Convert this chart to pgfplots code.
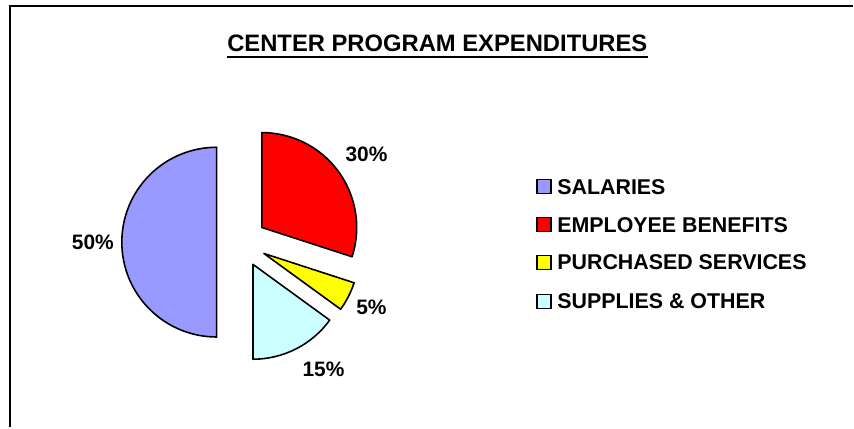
\documentclass[border=0pt]{standalone}
\usepackage{pgfplots}
\pgfplotsset{compat=1.18}
\usepackage{fontspec}
\setmainfont{Liberation Sans}
\definecolor{cSal}{HTML}{9999FF}
\definecolor{cEmp}{HTML}{FF0000}
\definecolor{cPur}{HTML}{FFFF00}
\definecolor{cSup}{HTML}{CCFFFF}
% data (percent of expenditures)
\def\vA{50}\def\vB{30}\def\vC{5}\def\vD{15}
% pie geometry (first slice starts at 6 o'clock, clockwise)
\def\cx{242}\def\cy{185.5}\def\R{95}\def\ex{25}
\pgfmathsetmacro\sA{270}
\pgfmathsetmacro\eA{\sA-3.6*\vA}
\pgfmathsetmacro\eB{\eA-3.6*\vB}
\pgfmathsetmacro\eC{\eB-3.6*\vC}
\pgfmathsetmacro\eD{\eC-3.6*\vD}
\newcommand\slice[3]{%
  \filldraw[fill=#3,draw=black,line width=1.6bp,line join=round]
    ({\cx+\ex*cos((#1+#2)/2)},{\cy+\ex*sin((#1+#2)/2)})
    -- ++({\R*cos(#1)},{\R*sin(#1)})
    arc[start angle=#1,end angle=#2,radius=\R] -- cycle;}
\begin{document}
\begin{tikzpicture}
\begin{axis}[x=1bp,y=1bp,xmin=0,xmax=854,ymin=0,ymax=428,
  hide axis,clip=false,scale only axis]
\path[fill=white] (axis cs:0,0) rectangle (axis cs:854,428);
% frame
\draw[line width=2.6bp] (axis cs:10,0) -- (axis cs:10,422) -- (axis cs:854,422);
% title
\node[anchor=base,font=\fontsize{23.9}{28}\selectfont\bfseries] (ttl) at (axis cs:438,376) {CENTER PROGRAM EXPENDITURES};
\draw[line width=2.2bp] (axis cs:227,371) -- (axis cs:649,371);
% slices
\slice{\sA}{\eA}{cSal}
\slice{\eA}{\eB}{cEmp}
\slice{\eB}{\eC}{cPur}
\slice{\eC}{\eD}{cSup}
% data labels
\begin{scope}[every node/.style={font=\fontsize{21}{24}\selectfont\bfseries}]
\node at (axis cs:93,185) {\vA\%};
\node at (axis cs:367,273) {\vB\%};
\node at (axis cs:372,120) {\vC\%};
\node at (axis cs:324,58) {\vD\%};
\end{scope}
% legend
\begin{scope}[every node/.style={font=\fontsize{21.5}{24}\selectfont\bfseries,anchor=west,inner sep=0pt}]
\filldraw[fill=cSal,draw=black,line width=1.4bp] (axis cs:538,234) rectangle (axis cs:552,248);
\node at (axis cs:558,241) {SALARIES};
\filldraw[fill=cEmp,draw=black,line width=1.4bp] (axis cs:538,196) rectangle (axis cs:552,210);
\node at (axis cs:558,203) {EMPLOYEE BENEFITS};
\filldraw[fill=cPur,draw=black,line width=1.4bp] (axis cs:538,158) rectangle (axis cs:552,172);
\node at (axis cs:558,165) {PURCHASED SERVICES};
\filldraw[fill=cSup,draw=black,line width=1.4bp] (axis cs:538,119) rectangle (axis cs:552,133);
\node at (axis cs:558,126) {SUPPLIES \& OTHER};
\end{scope}
\end{axis}
\end{tikzpicture}
\end{document}
